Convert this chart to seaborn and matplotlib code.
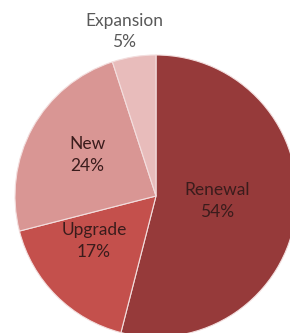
import numpy as np
import matplotlib
matplotlib.use("Agg")
import matplotlib.pyplot as plt
import seaborn as sns

categories = ["Renewal", "Upgrade", "New", "Expansion"]
values = [54, 17, 24, 5]
pct_labels = ["54%", "17%", "24%", "5%"]

sns.set_theme(style="white")
plt.rcParams['font.family'] = ['Lato', 'DejaVu Sans']

colors = ["#963a3a", "#c4504c", "#d99694", "#e8bcbb"]

fig = plt.figure(figsize=(2.90, 3.33), dpi=100)
ax = fig.add_axes([15/290, -4/333, 282/290, 282/333])
wedges, _ = ax.pie(values, colors=colors, startangle=90, counterclock=False,
                   radius=1.0, wedgeprops=dict(edgecolor="#f3dede", linewidth=0.8))
ax.set_xlim(-1, 1)
ax.set_ylim(-1, 1)
ax.set_axis_off()

# label placement: (radius fraction, angle offset in degrees) per slice
label_r = [0.434, 0.543, 0.569, 1.19]
label_da = [2.5, -9, -2, 2]
for w, cat, pl, r, da in zip(wedges, categories, pct_labels, label_r, label_da):
    ang = np.deg2rad((w.theta1 + w.theta2) / 2 + da)
    x, y = r * np.cos(ang), r * np.sin(ang)
    col = "#595959" if cat == "Expansion" else "#3a1c1c"
    ax.text(x, y, f"{cat}\n{pl}", ha="center", va="center", fontsize=12.5,
            color=col, linespacing=1.4, clip_on=False)

fig.savefig("out.png", dpi=100)
